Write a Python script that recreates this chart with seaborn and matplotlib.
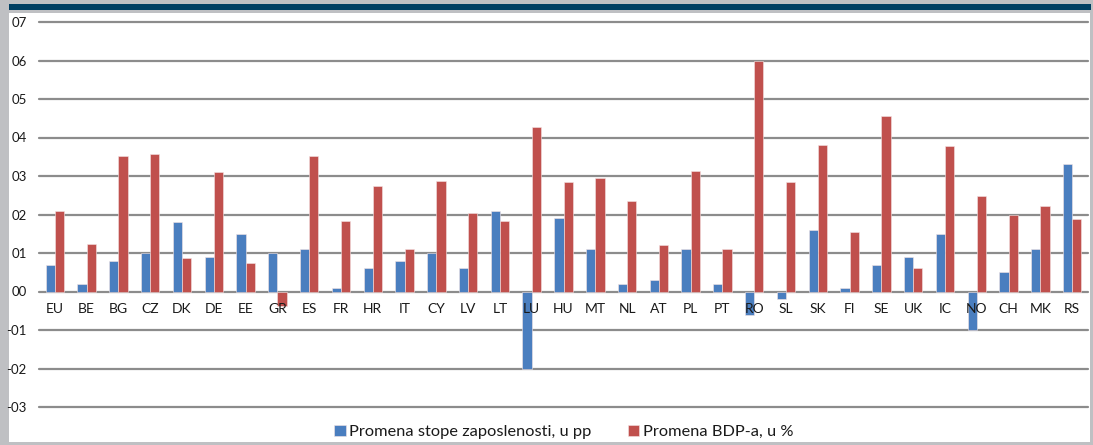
import pandas as pd
import matplotlib.pyplot as plt
import seaborn as sns
from matplotlib.patches import Rectangle

# countries and the two series
countries = ['EU', 'BE', 'BG', 'CZ', 'DK', 'DE', 'EE', 'GR', 'ES', 'FR', 'HR', 'IT',
             'CY', 'LV', 'LT', 'LU', 'HU', 'MT', 'NL', 'AT', 'PL', 'PT', 'RO', 'SL',
             'SK', 'FI', 'SE', 'UK', 'IC', 'NO', 'CH', 'MK', 'RS']
employment = [0.07, 0.02, 0.08, 0.10, 0.18, 0.09, 0.15, 0.10, 0.11, 0.01, 0.06, 0.08,
              0.10, 0.06, 0.21, -0.20, 0.19, 0.11, 0.02, 0.03, 0.11, 0.02, -0.06, -0.02,
              0.16, 0.01, 0.07, 0.09, 0.15, -0.10, 0.05, 0.11, 0.33]
gdp = [0.21, 0.123, 0.351, 0.358, 0.086, 0.31, 0.075, -0.037, 0.351, 0.182, 0.274, 0.111,
       0.287, 0.203, 0.184, 0.427, 0.284, 0.294, 0.234, 0.122, 0.313, 0.111, 0.598, 0.284,
       0.381, 0.155, 0.457, 0.062, 0.378, 0.247, 0.198, 0.221, 0.188]
series_names = ['Promena stope zaposlenosti, u pp', 'Promena BDP-a, u %']
yticks = [-0.3, -0.2, -0.1, 0.0, 0.1, 0.2, 0.3, 0.4, 0.5, 0.6, 0.7]
ytick_labels = ['-03', '-02', '-01', '00', '01', '02', '03', '04', '05', '06', '07']

df = pd.DataFrame({
    'country': countries * 2,
    'value': employment + gdp,
    'series': [series_names[0]] * len(countries) + [series_names[1]] * len(countries),
})

sns.set_style('white')
plt.rcParams['font.family'] = ['Lato', 'DejaVu Sans']

W, H = 1093, 445
fig = plt.figure(figsize=(W / 100, H / 100), dpi=100, facecolor='#bfc0c3')

# white panel and dark top band
fig.patches.append(Rectangle((9 / W, 1 - 442 / H), 1081 / W, 429 / H,
                             transform=fig.transFigure, facecolor='white', edgecolor='none', zorder=-2))
fig.patches.append(Rectangle((9 / W, 1 - 9.5 / H), 1082 / W, 5.5 / H,
                             transform=fig.transFigure, facecolor='#003f62', edgecolor='none', zorder=-2))

ax = fig.add_axes([39 / W, 1 - 407 / H, 1049 / W, 385 / H])
ax.set_zorder(2)
ax.set_facecolor('none')

sns.barplot(data=df, x='country', y='value', hue='series', palette=['#4a7ebf', '#c0504d'],
            saturation=1, width=0.58, gap=0, errorbar=None, edgecolor='#f4e4e4',
            linewidth=0.4, ax=ax, zorder=3)

ax.set_ylim(-0.3, 0.7)
ax.set_xlim(-0.5, len(countries) - 0.5)
ax.set_yticks(yticks)
ax.set_yticklabels(ytick_labels, fontsize=9.5, color='#1a1a1a')
ax.yaxis.grid(True, color='#8c8c8c', linewidth=1.6)
ax.set_axisbelow(True)
ax.xaxis.set_zorder(5)  # category labels drawn over the bars
for gl in ax.get_ygridlines():
    gl.set_clip_on(False)

# category labels sit right under the zero line
ax.spines['bottom'].set_position(('data', 0))
for s in ax.spines.values():
    s.set_visible(False)
ax.tick_params(axis='both', length=0)
ax.tick_params(axis='y', pad=9)
ax.tick_params(axis='x', pad=8, labelsize=10, labelcolor='#1a1a1a')
ax.set_xlabel('')
ax.set_ylabel('')

handles, labels = ax.get_legend_handles_labels()
ax.get_legend().remove()
leg = fig.legend(handles, labels, loc='center', bbox_to_anchor=(0.5156, 1 - 432 / H), ncol=2,
                 frameon=False, fontsize=11.8, handlelength=0.72, handleheight=0.72,
                 handletextpad=0.2, columnspacing=2.2)
for t in leg.get_texts():
    t.set_color('#1a1a1a')

fig.savefig('out.png', dpi=100, facecolor=fig.get_facecolor())
